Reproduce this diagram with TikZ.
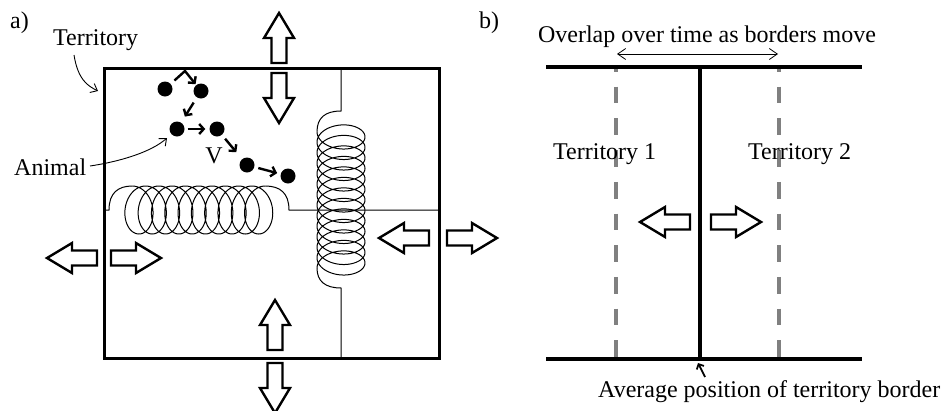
\documentclass[tikz,border=0pt]{standalone}
\usepackage{fontspec}
\setmainfont{Liberation Serif}
\usetikzlibrary{arrows.meta}
\tikzset{
  lbl/.style={inner sep=0pt, font=\fontsize{24}{28}\selectfont},
  thick border/.style={line width=3pt},
  thin line/.style={line width=1pt},
  dot/.style={circle, fill=black, inner sep=0pt, minimum size=15pt},
  move/.style={line width=2.4pt, -{Straight Barb[length=4.5pt,width=10pt]}},
  leader/.style={line width=0.9pt, -{Straight Barb[length=6pt,width=10pt]}},
  graydash/.style={line width=3.5pt, draw={rgb,255:red,128;green,128;blue,128}, dash pattern=on 16.7pt off 15pt, dash phase=12pt},
  barrow/.pic={\draw[line width=2.4pt, line join=miter, fill=white] (0,-7.5) -- (25,-7.5) -- (25,-15) -- (50,0) -- (25,15) -- (25,7.5) -- (0,7.5) -- cycle;}
}
\begin{document}
\begin{tikzpicture}[x=1pt,y=-1pt]
\useasboundingbox (0,0) rectangle (941,410);
% ---------- part a ----------
% springs and dividing lines
\draw[thin line] (104,210) -- (109,210) .. controls (109,193) and (118,186) .. (132.3,186);
\draw[thin line] plot[domain=0:3600, samples=700, variable=\t] ({132.3+(\t/360)*13.3+17.3*sin(\t)}, {210-24*cos(\t)});
\draw[thin line] (265.3,186) .. controls (280,186) and (289,193) .. (289,210) -- (439,210);
\draw[thin line] (341,68) -- (341,111) .. controls (325,111) and (317,118) .. (317,131.7);
\draw[thin line] plot[domain=0:4680, samples=900, variable=\t] ({341-24*cos(\t)}, {131.7+(\t/360)*10.5+14.6*sin(\t)});
\draw[thin line] (317,268.2) .. controls (317,281) and (325,288) .. (341,288) -- (341,358);
% territory box
\draw[thick border] (104,68) rectangle (439,358);
% block arrows
\pic[rotate=90] at (279,63) {barrow};
\pic[rotate=-90] at (279,73) {barrow};
\pic[rotate=90] at (275,350) {barrow};
\pic[rotate=-90] at (275,363) {barrow};
\pic[rotate=180] at (97,258) {barrow};
\pic at (111,258) {barrow};
\pic[rotate=180] at (429,238) {barrow};
\pic at (447,238) {barrow};
% animals
\node[dot] (d1) at (165,89) {};
\node[dot] (d2) at (201,91) {};
\node[dot] (d3) at (177,129) {};
\node[dot] (d4) at (217,129) {};
\node[dot] (d5) at (247,165) {};
\node[dot] (d6) at (288,176) {};
\coordinate (bend) at (185,71);
\draw[move, shorten <=5pt, shorten >=1pt] (d1) -- (bend) -- (d2);
\draw[move, shorten <=6pt, shorten >=7pt] (d2) -- (d3);
\draw[move, shorten <=3pt, shorten >=4pt] (d3) -- (d4);
\draw[move, shorten <=5pt, shorten >=9pt] (d4) -- (d5);
\draw[move, shorten <=4pt, shorten >=3.5pt] (d5) -- (d6);
% labels
\node[lbl, anchor=base west] (la) at (10,28) {a)};
\node[lbl, anchor=base west] (terr) at (53,45) {Territory};
\node[lbl, anchor=base west] (anim) at (14,175) {Animal};
\node[lbl, anchor=base] (vlab) at (214,163) {V};
\coordinate (tstart) at (74,55);
\coordinate (tend) at (98,91);
\draw[leader] (tstart) .. controls (78,80) and (88,86) .. (tend);
\coordinate (astart) at (90,166);
\coordinate (aend) at (167,138);
\draw[leader] (astart) .. controls (117,162) and (150,153) .. (aend);
% ---------- part b ----------
\node[lbl, anchor=base west] (lb) at (479,28) {b)};
\draw[graydash] (616,67) -- (616,359);
\draw[graydash] (779,67) -- (779,359);
\draw[line width=3.5pt] (546,67) -- (862,67);
\draw[line width=3.5pt] (546,359) -- (862,359);
\draw[line width=3.5pt] (700,67) -- (700,359);
\node[lbl, anchor=base] (over) at (707,42) {Overlap over time as borders move};
\coordinate (ovl) at (617,54);
\coordinate (ovr) at (778,54);
\draw[line width=0.8pt, {Straight Barb[length=8pt,width=11pt]}-{Straight Barb[length=8pt,width=11pt]}] (ovl) -- (ovr);
\node[lbl, anchor=base west] (t1) at (553,159) {Territory 1};
\node[lbl, anchor=base west] (t2) at (748,159) {Territory 2};
\pic[rotate=180] at (690,222) {barrow};
\pic at (711,222) {barrow};
\node[lbl, anchor=base west] (avg) at (598,397) {Average position of territory border};
\coordinate (avs) at (705,377);
\coordinate (ave) at (698,363);
\draw[line width=1.8pt, -{Straight Barb[length=4pt,width=8pt]}] (avs) -- (ave);
\end{tikzpicture}
\end{document}
